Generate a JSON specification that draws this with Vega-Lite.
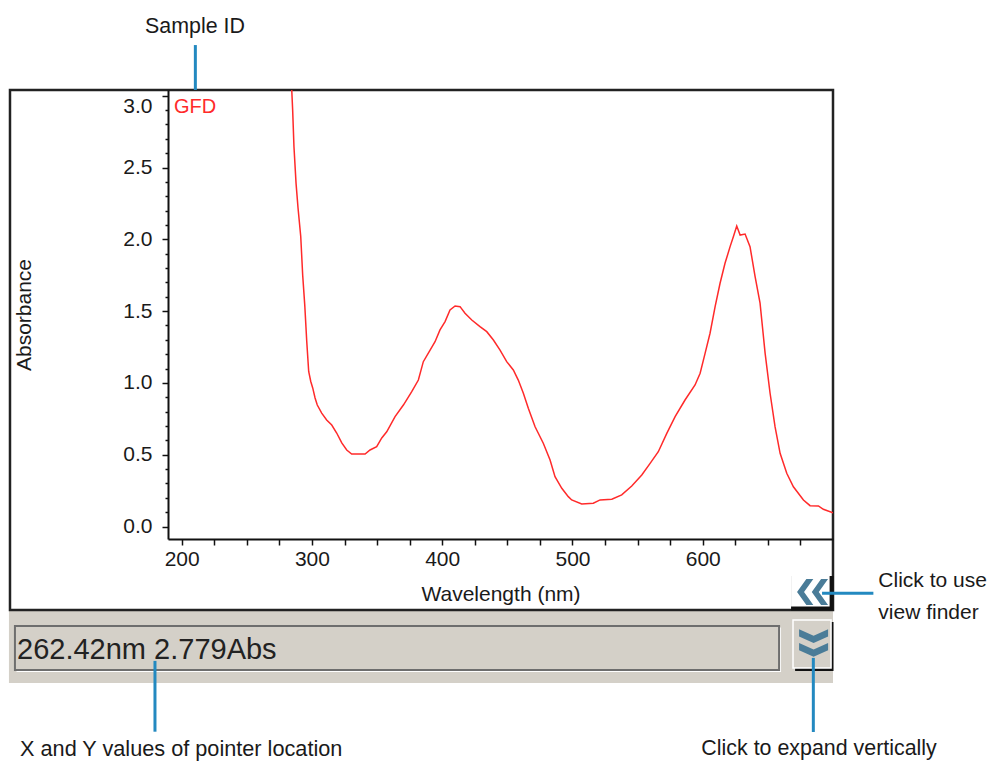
{
  "$schema": "https://vega.github.io/schema/vega-lite/v6.json",
  "width": 665,
  "height": 449,
  "autosize": "none",
  "padding": {"left": 168, "top": 90, "right": 157, "bottom": 222},
  "background": "white",
  "config": {"view": {"stroke": null}},
  "datasets": {
    "spectrum": [
      {"wavelength": 284.5, "absorbance": 3.04},
      {"wavelength": 285.2, "absorbance": 2.9},
      {"wavelength": 286.2, "absorbance": 2.645},
      {"wavelength": 287.8, "absorbance": 2.39},
      {"wavelength": 289.3, "absorbance": 2.22},
      {"wavelength": 291.4, "absorbance": 2.02},
      {"wavelength": 292.9, "absorbance": 1.75},
      {"wavelength": 294.5, "absorbance": 1.54},
      {"wavelength": 296.0, "absorbance": 1.29},
      {"wavelength": 297.5, "absorbance": 1.08},
      {"wavelength": 299.1, "absorbance": 1.01},
      {"wavelength": 300.6, "absorbance": 0.965},
      {"wavelength": 302.4, "absorbance": 0.895},
      {"wavelength": 304.1, "absorbance": 0.846},
      {"wavelength": 307.5, "absorbance": 0.79},
      {"wavelength": 311.3, "absorbance": 0.742},
      {"wavelength": 315.2, "absorbance": 0.707},
      {"wavelength": 319.0, "absorbance": 0.651},
      {"wavelength": 322.9, "absorbance": 0.582},
      {"wavelength": 326.7, "absorbance": 0.533},
      {"wavelength": 330.5, "absorbance": 0.505},
      {"wavelength": 340.8, "absorbance": 0.505},
      {"wavelength": 344.6, "absorbance": 0.533},
      {"wavelength": 349.7, "absorbance": 0.556},
      {"wavelength": 353.6, "absorbance": 0.617},
      {"wavelength": 357.4, "absorbance": 0.66},
      {"wavelength": 363.8, "absorbance": 0.765},
      {"wavelength": 370.2, "absorbance": 0.846},
      {"wavelength": 376.6, "absorbance": 0.939},
      {"wavelength": 381.7, "absorbance": 1.02},
      {"wavelength": 385.5, "absorbance": 1.148},
      {"wavelength": 390.7, "absorbance": 1.229},
      {"wavelength": 394.5, "absorbance": 1.287},
      {"wavelength": 398.3, "absorbance": 1.369},
      {"wavelength": 402.2, "absorbance": 1.427},
      {"wavelength": 406.0, "absorbance": 1.508},
      {"wavelength": 409.9, "absorbance": 1.536},
      {"wavelength": 413.7, "absorbance": 1.531},
      {"wavelength": 417.5, "absorbance": 1.485},
      {"wavelength": 422.7, "absorbance": 1.438},
      {"wavelength": 429.0, "absorbance": 1.392},
      {"wavelength": 434.2, "absorbance": 1.357},
      {"wavelength": 439.3, "absorbance": 1.299},
      {"wavelength": 444.4, "absorbance": 1.229},
      {"wavelength": 449.5, "absorbance": 1.148},
      {"wavelength": 454.6, "absorbance": 1.09},
      {"wavelength": 458.4, "absorbance": 1.02},
      {"wavelength": 462.3, "absorbance": 0.928},
      {"wavelength": 466.1, "absorbance": 0.823},
      {"wavelength": 471.3, "absorbance": 0.695},
      {"wavelength": 477.6, "absorbance": 0.58},
      {"wavelength": 482.8, "absorbance": 0.463},
      {"wavelength": 486.6, "absorbance": 0.347},
      {"wavelength": 491.8, "absorbance": 0.266},
      {"wavelength": 496.8, "absorbance": 0.208},
      {"wavelength": 499.4, "absorbance": 0.185},
      {"wavelength": 507.1, "absorbance": 0.157},
      {"wavelength": 516.0, "absorbance": 0.162},
      {"wavelength": 521.2, "absorbance": 0.185},
      {"wavelength": 530.2, "absorbance": 0.19},
      {"wavelength": 537.8, "absorbance": 0.22},
      {"wavelength": 545.5, "absorbance": 0.282},
      {"wavelength": 553.2, "absorbance": 0.359},
      {"wavelength": 559.6, "absorbance": 0.44},
      {"wavelength": 565.9, "absorbance": 0.521},
      {"wavelength": 572.4, "absorbance": 0.649},
      {"wavelength": 578.8, "absorbance": 0.765},
      {"wavelength": 586.4, "absorbance": 0.881},
      {"wavelength": 594.1, "absorbance": 0.986},
      {"wavelength": 598.0, "absorbance": 1.067},
      {"wavelength": 601.8, "absorbance": 1.206},
      {"wavelength": 605.6, "absorbance": 1.346},
      {"wavelength": 609.5, "absorbance": 1.531},
      {"wavelength": 613.3, "absorbance": 1.694},
      {"wavelength": 617.1, "absorbance": 1.833},
      {"wavelength": 621.0, "absorbance": 1.949},
      {"wavelength": 623.5, "absorbance": 2.018},
      {"wavelength": 626.1, "absorbance": 2.093},
      {"wavelength": 628.7, "absorbance": 2.03},
      {"wavelength": 632.5, "absorbance": 2.037},
      {"wavelength": 636.3, "absorbance": 1.949},
      {"wavelength": 640.2, "absorbance": 1.74},
      {"wavelength": 644.0, "absorbance": 1.555},
      {"wavelength": 647.9, "absorbance": 1.206},
      {"wavelength": 651.7, "absorbance": 0.928},
      {"wavelength": 655.5, "absorbance": 0.695},
      {"wavelength": 659.4, "absorbance": 0.51},
      {"wavelength": 664.5, "absorbance": 0.371},
      {"wavelength": 669.6, "absorbance": 0.277},
      {"wavelength": 677.3, "absorbance": 0.185},
      {"wavelength": 682.4, "absorbance": 0.145},
      {"wavelength": 688.8, "absorbance": 0.143},
      {"wavelength": 692.6, "absorbance": 0.12},
      {"wavelength": 700.0, "absorbance": 0.096}
    ],
    "panels": [
      {"part": "statusbar", "wavelength": 67.4, "wavelength2": 700.0, "absorbance": -0.581, "absorbance2": -1.0895},
      {"part": "window", "wavelength": 68.2, "wavelength2": 700.0, "absorbance": 3.04, "absorbance2": -0.581},
      {"part": "textbox-light", "wavelength": 73.2, "wavelength2": 660.1, "absorbance": -0.703, "absorbance2": -1.013},
      {"part": "textbox", "wavelength": 72.0, "wavelength2": 658.6, "absorbance": -0.693, "absorbance2": -0.999},
      {"part": "expand-shadow", "wavelength": 670.9, "wavelength2": 700.4, "absorbance": -0.665, "absorbance2": -1.006},
      {"part": "expand-face", "wavelength": 669.3, "wavelength2": 698.5, "absorbance": -0.651, "absorbance2": -0.985},
      {"part": "finder-shadow", "wavelength": 667.8, "wavelength2": 700.4, "absorbance": -0.344, "absorbance2": -0.585},
      {"part": "finder-face", "wavelength": 667.8, "wavelength2": 697.4, "absorbance": -0.344, "absorbance2": -0.557}
    ],
    "leaders": [
      {"target": "Sample ID", "wavelength": 210.5, "wavelength2": 210.5, "absorbance": 3.353, "absorbance2": 3.04},
      {"target": "view finder", "wavelength": 691.6, "wavelength2": 731.0, "absorbance": -0.465, "absorbance2": -0.465},
      {"target": "pointer location", "wavelength": 179.5, "wavelength2": 179.5, "absorbance": -0.936, "absorbance2": -1.429},
      {"target": "expand", "wavelength": 684.9, "wavelength2": 684.9, "absorbance": -0.915, "absorbance2": -1.431}
    ],
    "buttons": [
      {"button": "finder", "wavelength": 684.3, "absorbance": -0.456},
      {"button": "expand", "wavelength": 685.1, "absorbance": -0.811}
    ],
    "notes": [
      {"label": "Sample ID", "wavelength": 210.2, "absorbance": 3.435},
      {"label": "Click to use", "wavelength": 734.8, "absorbance": -0.421},
      {"label": "view finder", "wavelength": 734.8, "absorbance": -0.646},
      {"label": "X and Y values of pointer location", "wavelength": 75.9, "absorbance": -1.598},
      {"label": "Click to expand vertically", "wavelength": 689.3, "absorbance": -1.591}
    ],
    "sample": [
      {"label": "GFD", "wavelength": 194.1, "absorbance": 2.878}
    ],
    "readout": [
      {"label": "262.42nm 2.779Abs", "wavelength": 73.6, "absorbance": -0.922}
    ]
  },
  "encoding": {
    "x": {
      "field": "wavelength",
      "type": "quantitative",
      "scale": {"domain": [189.5, 700], "nice": false, "zero": false},
      "axis": {
        "title": "Wavelength (nm)",
        "zindex": 2,
        "values": [200, 225, 250, 275, 300, 325, 350, 375, 400, 425, 450, 475, 500, 525, 550, 575, 600, 625, 650, 675],
        "labelExpr": "datum.value % 100 == 0 ? datum.label : ''",
        "grid": false,
        "tickSize": 6,
        "tickWidth": 1.5,
        "tickColor": "#111111",
        "domainColor": "#111111",
        "domainWidth": 2,
        "labelFont": "Liberation Sans, Arial, sans-serif",
        "labelFontSize": 21,
        "labelColor": "#1a1a1a",
        "labelPadding": 3,
        "labelOverlap": false,
        "labelFlush": false,
        "titleFont": "Liberation Sans, Arial, sans-serif",
        "titleFontSize": 21,
        "titleFontWeight": "normal",
        "titleColor": "#1a1a1a",
        "titlePadding": 14
      }
    },
    "y": {
      "field": "absorbance",
      "type": "quantitative",
      "scale": {"domain": [-0.087, 3.04], "nice": false, "zero": false},
      "axis": {
        "title": "Absorbance",
        "zindex": 2,
        "values": [0, 0.1, 0.2, 0.3, 0.4, 0.5, 0.6, 0.7, 0.8, 0.9, 1, 1.1, 1.2, 1.3, 1.4, 1.5, 1.6, 1.7, 1.8, 1.9, 2, 2.1, 2.2, 2.3, 2.4, 2.5, 2.6, 2.7, 2.8, 2.9, 3],
        "labelExpr": "abs(datum.value * 2 - round(datum.value * 2)) < 0.01 ? format(datum.value, '.1f') : ''",
        "tickSize": {"condition": {"test": "abs(datum.value * 2 - round(datum.value * 2)) < 0.01", "value": 6}, "value": 3},
        "labelBaseline": {"condition": {"test": "datum.value > 2.95", "value": "top"}, "value": "middle"},
        "grid": false,
        "tickWidth": 1.5,
        "tickColor": "#111111",
        "domainColor": "#111111",
        "domainWidth": 2,
        "labelFont": "Liberation Sans, Arial, sans-serif",
        "labelFontSize": 21,
        "labelColor": "#1a1a1a",
        "labelPadding": 10,
        "labelOverlap": false,
        "labelFlush": false,
        "titleFont": "Liberation Sans, Arial, sans-serif",
        "titleFontSize": 21,
        "titleFontWeight": "normal",
        "titleColor": "#1a1a1a",
        "titlePadding": 88
      }
    }
  },
  "layer": [
    {
      "data": {"name": "panels"},
      "transform": [{"filter": "datum.part == 'statusbar'"}],
      "mark": {"type": "rect", "fill": "#d4d0c8"},
      "encoding": {"x2": {"field": "wavelength2"}, "y2": {"field": "absorbance2"}}
    },
    {
      "data": {"name": "panels"},
      "transform": [{"filter": "datum.part == 'window'"}],
      "mark": {"type": "rect", "fill": "white", "stroke": "#222222", "strokeWidth": 2.5},
      "encoding": {"x2": {"field": "wavelength2"}, "y2": {"field": "absorbance2"}}
    },
    {
      "data": {"name": "panels"},
      "transform": [{"filter": "datum.part == 'textbox-light'"}],
      "mark": {"type": "rect", "fill": "#ffffff"},
      "encoding": {"x2": {"field": "wavelength2"}, "y2": {"field": "absorbance2"}}
    },
    {
      "data": {"name": "panels"},
      "transform": [{"filter": "datum.part == 'textbox'"}],
      "mark": {"type": "rect", "fill": "#d4d0c8", "stroke": "#6e6e6e", "strokeWidth": 2},
      "encoding": {"x2": {"field": "wavelength2"}, "y2": {"field": "absorbance2"}}
    },
    {
      "data": {"name": "panels"},
      "transform": [{"filter": "datum.part == 'expand-shadow' || datum.part == 'finder-shadow'"}],
      "mark": {"type": "rect", "fill": "#111111"},
      "encoding": {"x2": {"field": "wavelength2"}, "y2": {"field": "absorbance2"}}
    },
    {
      "data": {"name": "panels"},
      "transform": [{"filter": "datum.part == 'expand-face'"}],
      "mark": {"type": "rect", "fill": "#d4d0c8", "stroke": "#ffffff", "strokeWidth": 1.5},
      "encoding": {"x2": {"field": "wavelength2"}, "y2": {"field": "absorbance2"}}
    },
    {
      "data": {"name": "panels"},
      "transform": [{"filter": "datum.part == 'finder-face'"}],
      "mark": {"type": "rect", "fill": "#ffffff"},
      "encoding": {"x2": {"field": "wavelength2"}, "y2": {"field": "absorbance2"}}
    },
    {
      "data": {"name": "leaders"},
      "mark": {"type": "rule", "color": "#2389c0", "strokeWidth": 3},
      "encoding": {"x2": {"field": "wavelength2"}, "y2": {"field": "absorbance2"}}
    },
    {
      "data": {"name": "spectrum"},
      "mark": {"type": "line", "color": "#ff2a2a", "strokeWidth": 1.5, "clip": true, "interpolate": "linear"},
      "encoding": {}
    },
    {
      "data": {"name": "buttons"},
      "transform": [{"filter": "datum.button == 'finder'"}],
      "mark": {"type": "point", "filled": true, "opacity": 1, "color": "#4a7c98", "strokeWidth": 0, "size": 961,
        "shape": "M-0.4,-0.84 L-1,0 L-0.4,0.84 L0.05,0.84 L-0.55,0 L0.05,-0.84 Z M0.55,-0.84 L-0.05,0 L0.55,0.84 L1,0.84 L0.4,0 L1,-0.84 Z"}
    },
    {
      "data": {"name": "buttons"},
      "transform": [{"filter": "datum.button == 'expand'"}],
      "mark": {"type": "point", "filled": true, "opacity": 1, "color": "#4a7c98", "strokeWidth": 0, "size": 841,
        "shape": "M-1,-0.95 L0,-0.5 L1,-0.95 L1,-0.45 L0,0 L-1,-0.45 Z M-1,0 L0,0.45 L1,0 L1,0.5 L0,0.95 L-1,0.5 Z"}
    },
    {
      "data": {"name": "notes"},
      "transform": [{"filter": {"field": "label", "oneOf": ["Click to use", "view finder"]}}],
      "mark": {"type": "text", "align": "left", "baseline": "alphabetic", "font": "Liberation Sans, Arial, sans-serif", "fontSize": 21, "color": "#1a1a1a"},
      "encoding": {"text": {"field": "label"}}
    },
    {
      "data": {"name": "notes"},
      "transform": [{"filter": {"field": "label", "oneOf": ["X and Y values of pointer location"]}}],
      "mark": {"type": "text", "align": "left", "baseline": "alphabetic", "font": "Liberation Sans, Arial, sans-serif", "fontSize": 21.7, "color": "#1a1a1a"},
      "encoding": {"text": {"field": "label"}}
    },
    {
      "data": {"name": "notes"},
      "transform": [{"filter": {"field": "label", "oneOf": ["Sample ID", "Click to expand vertically"]}}],
      "mark": {"type": "text", "align": "center", "baseline": "alphabetic", "font": "Liberation Sans, Arial, sans-serif", "fontSize": 21.4, "color": "#1a1a1a"},
      "encoding": {"text": {"field": "label"}}
    },
    {
      "data": {"name": "sample"},
      "mark": {"type": "text", "align": "left", "baseline": "alphabetic", "font": "Liberation Sans, Arial, sans-serif", "fontSize": 20, "color": "#ff2a2a"},
      "encoding": {"text": {"field": "label"}}
    },
    {
      "data": {"name": "readout"},
      "mark": {"type": "text", "align": "left", "baseline": "alphabetic", "font": "Liberation Sans, Arial, sans-serif", "fontSize": 29, "color": "#222222"},
      "encoding": {"text": {"field": "label"}}
    }
  ]
}
